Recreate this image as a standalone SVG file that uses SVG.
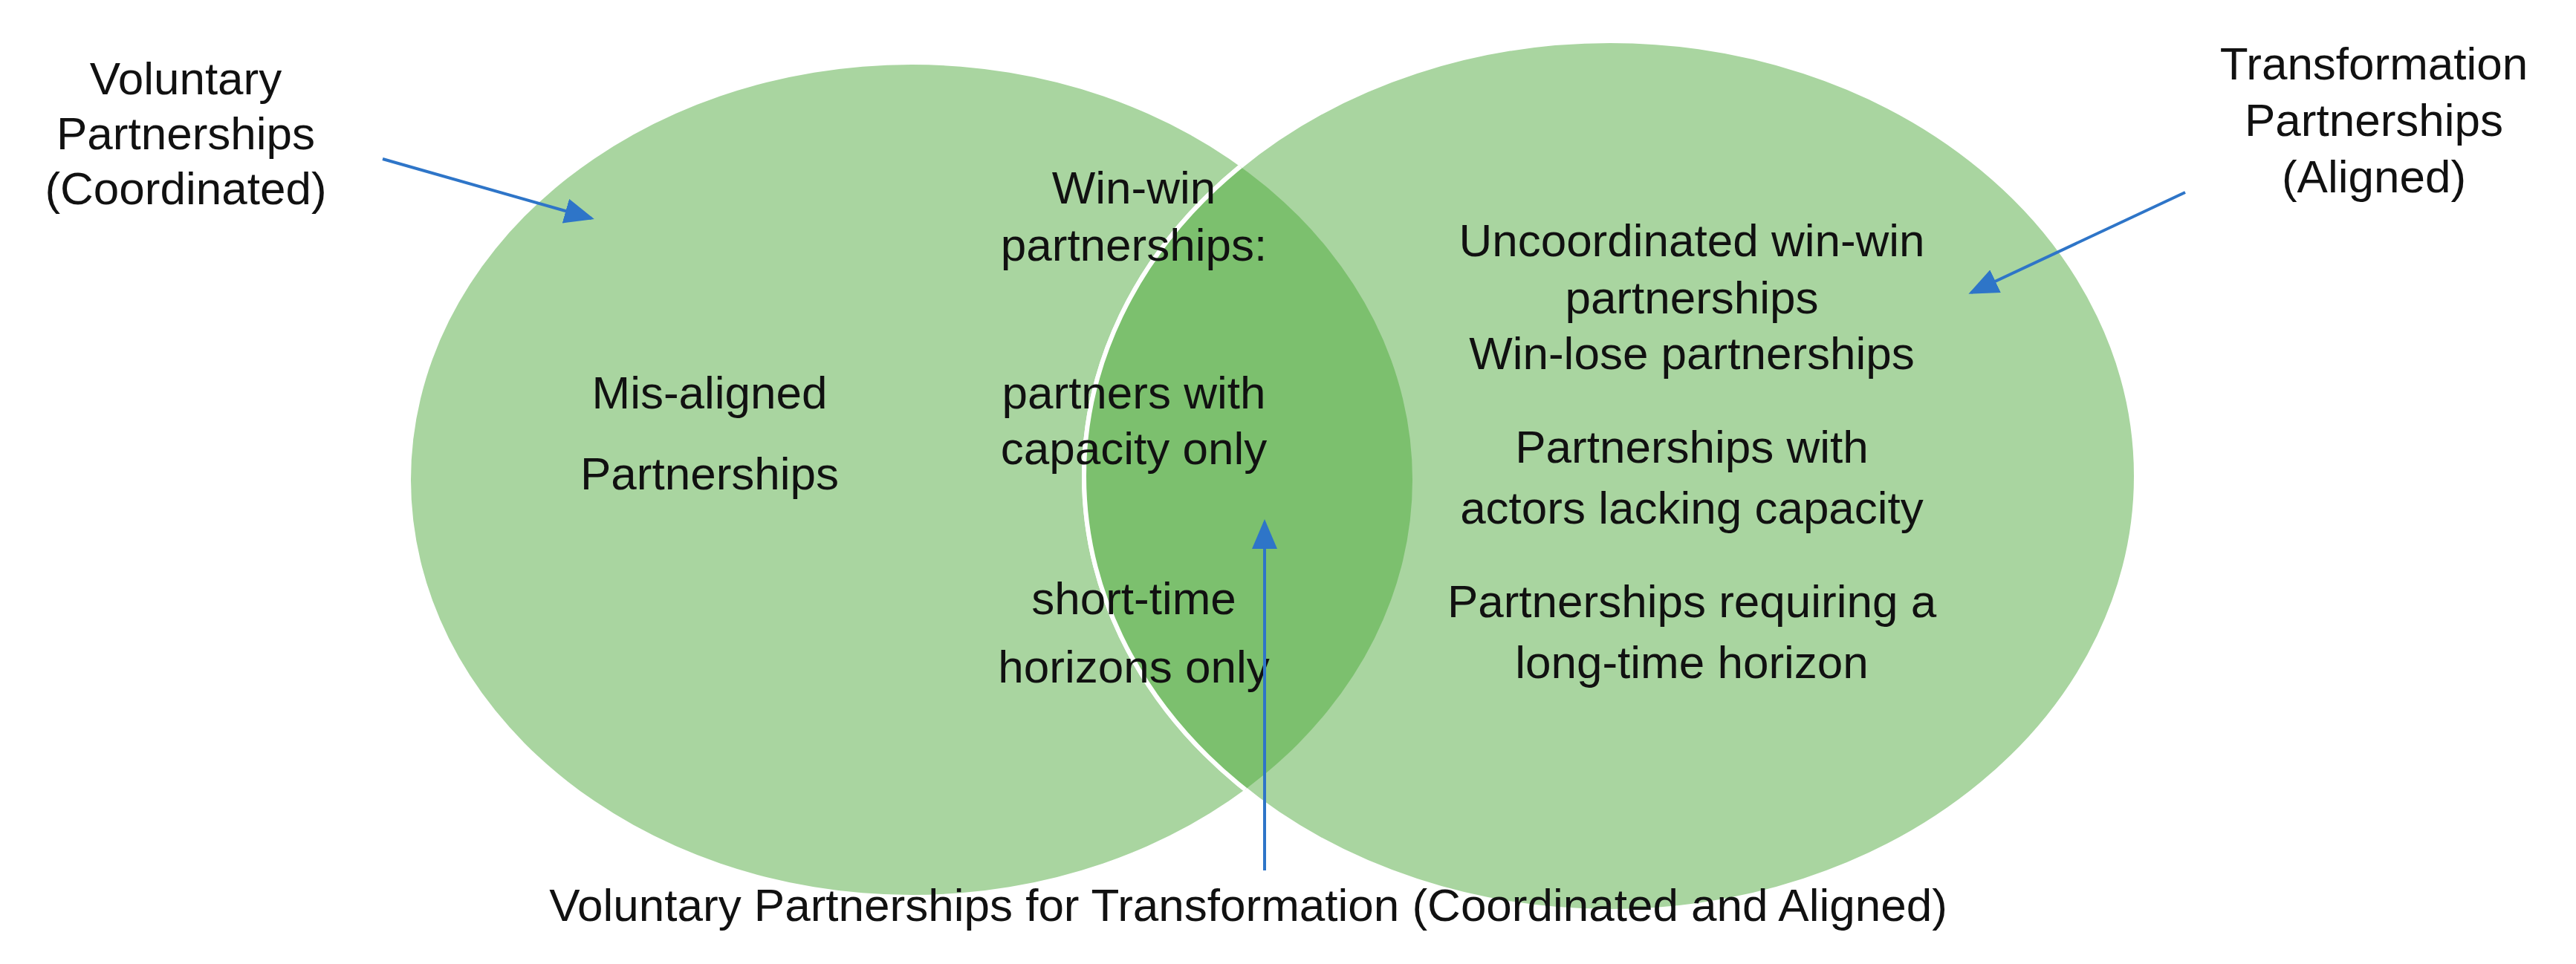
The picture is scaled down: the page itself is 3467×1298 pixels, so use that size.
<svg xmlns="http://www.w3.org/2000/svg" width="3467" height="1298" viewBox="0 0 3467 1298">
<style>
text{font-family:"Liberation Sans",Arial,sans-serif;font-size:62px;fill:#111;text-anchor:middle}
.a{stroke:#2e75c8;stroke-width:4;fill:none;marker-end:url(#h)}
</style>
<defs>
<marker id="h" markerUnits="userSpaceOnUse" markerWidth="40" markerHeight="34" refX="36" refY="17" orient="auto"><path d="M0,0 L40,17 L0,34 Z" fill="#2e75c8"/></marker>
<clipPath id="cr"><ellipse cx="2167" cy="641" rx="708" ry="586"/></clipPath>
<clipPath id="cl"><ellipse cx="1227" cy="646" rx="674" ry="559"/></clipPath>
</defs>
<rect width="3467" height="1298" fill="#fff"/>
<g id="left"><ellipse cx="1227" cy="646" rx="674" ry="559" fill="#a9d5a0"/></g>
<g id="right"><ellipse cx="2167" cy="641" rx="708" ry="586" fill="#a9d5a0" stroke="#fff" stroke-width="6"/></g>
<g id="overlap">
<ellipse cx="1227" cy="646" rx="674" ry="559" fill="#7cc06e" clip-path="url(#cr)"/>
<ellipse cx="2167" cy="641" rx="708" ry="586" fill="none" stroke="#fff" stroke-width="6" clip-path="url(#cl)"/>
</g>
<g id="labels">
<text x="250" y="127">Voluntary</text><text x="250" y="201">Partnerships</text><text x="250" y="275">(Coordinated)</text>
<text x="3195" y="107">Transformation</text><text x="3195" y="183">Partnerships</text><text x="3195" y="259">(Aligned)</text>
<text x="955" y="550">Mis-aligned</text><text x="955" y="659">Partnerships</text>
<text x="1526" y="274">Win-win</text><text x="1526" y="351">partnerships:</text>
<text x="1526" y="550">partners with</text><text x="1526" y="625">capacity only</text>
<text x="1526" y="827">short-time</text><text x="1526" y="919">horizons only</text>
<text x="2277" y="345">Uncoordinated win-win</text><text x="2277" y="422">partnerships</text>
<text x="2277" y="497">Win-lose partnerships</text>
<text x="2277" y="623">Partnerships with</text><text x="2277" y="705">actors lacking capacity</text>
<text x="2277" y="831">Partnerships requiring a</text><text x="2277" y="913">long-time horizon</text>
<text x="1680" y="1240">Voluntary Partnerships for Transformation (Coordinated and Aligned)</text>
</g>
<g id="connectors">
<line class="a" x1="515" y1="214" x2="796" y2="294"/>
<line class="a" x1="2941" y1="259" x2="2653" y2="394"/>
<line class="a" x1="1702" y1="1172" x2="1702" y2="703"/>
</g>
</svg>
